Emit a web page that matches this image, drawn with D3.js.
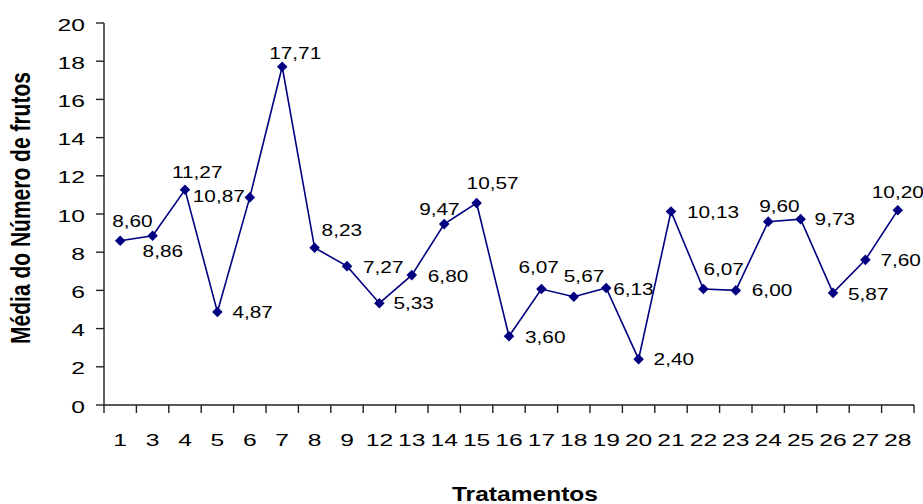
<!DOCTYPE html>
<html>
<head>
<meta charset="utf-8">
<script src="https://cdn.jsdelivr.net/npm/d3@7"></script>
<style>
html,body{margin:0;padding:0;background:#fff;}
svg{display:block;}
text{font-family:"Liberation Sans",Arial,sans-serif;fill:#000;}
</style>
</head>
<body>
<svg id="chart" width="923" height="504"></svg>
<script>
// ---- data ----
const categories = ["1","3","4","5","6","7","8","9","12","13","14","15","16","17","18","19","20","21","22","23","24","25","26","27","28"];
const values = [8.60,8.86,11.27,4.87,10.87,17.71,8.23,7.27,5.33,6.80,9.47,10.57,3.60,6.07,5.67,6.13,2.40,10.13,6.07,6.00,9.60,9.73,5.87,7.60,10.20];
const yTicks = [0,2,4,6,8,10,12,14,16,18,20];
const xTitle = "Tratamentos";
const yTitle = "Média do Número de frutos";
// label placement nudges (pixels relative to each point)
const labelDx = [-8,-10,-13,15,-57,-13,7,16,14,16,-25,-10,16,-23,-10,7,15,16,0,16,-9,14,15,15,-26];
const labelDy = [-14,21,-12,6,5,-8,-12,7,6,7,-9,-14,7,-16,-15,7,6,6,-14,6,-10,6,7,6,-12];

const fmt = v => v.toFixed(2).replace(".", ",");

(function () {
const svg = d3.select("#chart");
const mLeft = 104, mRight = 914, mTop = 23, mBottom = 405;
const navy = "#000080";
const axisColor = "#222";

const x = d3.scaleBand().domain(categories).range([mLeft, mRight]).padding(0);
const y = d3.scaleLinear().domain([0, 20]).range([mBottom, mTop]);

// axes lines
svg.append("line").attr("x1", mLeft).attr("x2", mLeft).attr("y1", y(20)).attr("y2", y(0))
  .attr("stroke", axisColor).attr("stroke-width", 1.4);
svg.append("line").attr("x1", mLeft).attr("x2", mRight).attr("y1", y(0)).attr("y2", y(0))
  .attr("stroke", axisColor).attr("stroke-width", 1.4);

// y ticks
svg.selectAll(".yt").data(yTicks).enter().append("line")
  .attr("x1", mLeft - 8).attr("x2", mLeft).attr("y1", d => y(d)).attr("y2", d => y(d))
  .attr("stroke", axisColor).attr("stroke-width", 1.4);
svg.selectAll(".yl").data(yTicks).enter().append("text")
  .attr("transform", d => `translate(${mLeft - 19},${y(d) + 7.5}) scale(1.45,1)`)
  .attr("text-anchor", "end").attr("font-size", 17).text(d => d);

// x ticks at band boundaries
const edges = categories.map(c => x(c)).concat([mRight]);
svg.selectAll(".xt").data(edges).enter().append("line")
  .attr("x1", d => d).attr("x2", d => d).attr("y1", y(0)).attr("y2", y(0) + 8)
  .attr("stroke", axisColor).attr("stroke-width", 1.4);
svg.selectAll(".xl").data(categories).enter().append("text")
  .attr("transform", d => `translate(${x(d) + x.bandwidth() / 2},446) scale(1.45,1)`)
  .attr("text-anchor", "middle").attr("font-size", 17).text(d => d);

// line
const cx = (d, i) => x(categories[i]) + x.bandwidth() / 2;
const line = d3.line().x((d, i) => cx(d, i)).y(d => y(d));
svg.append("path").datum(values).attr("d", line)
  .attr("fill", "none").attr("stroke", navy).attr("stroke-width", 1.6);

// markers
const diamond = d3.symbol().type(d3.symbolSquare).size(56);
svg.selectAll(".mk").data(values).enter().append("path")
  .attr("d", diamond)
  .attr("transform", (d, i) => `translate(${cx(d, i)},${y(d)}) rotate(45)`)
  .attr("fill", navy);

// data labels
svg.selectAll(".dl").data(values).enter().append("text")
  .attr("transform", (d, i) => `translate(${cx(d, i) + labelDx[i]},${y(d) + labelDy[i]}) scale(1.3,1)`)
  .attr("text-anchor", "start").attr("font-size", 16).text(d => fmt(d));

// titles
svg.append("text")
  .attr("transform", "translate(525,501) scale(1.26,1)")
  .attr("text-anchor", "middle").attr("font-size", 19.5).attr("font-weight", "bold").text(xTitle);
svg.append("text")
  .attr("transform", "translate(30,208) rotate(-90) scale(1.05,1.37)")
  .attr("text-anchor", "middle").attr("font-size", 20).attr("font-weight", "bold").text(yTitle);
})();
</script>
</body>
</html>
